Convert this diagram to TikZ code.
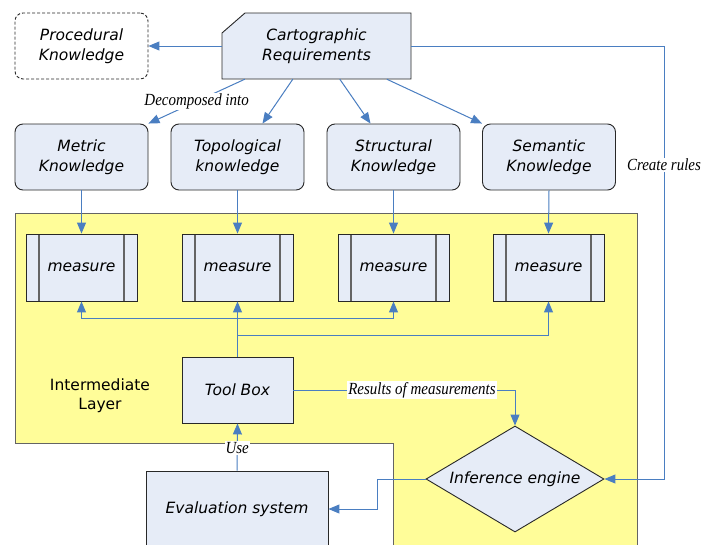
\documentclass[tikz,border=0pt]{standalone}
\usepackage{fontspec}
\setmainfont{DejaVu Sans}
\newfontfamily\labelfont[FakeStretch=0.88]{Liberation Serif}
\usetikzlibrary{arrows.meta,shapes.geometric,calc}
\definecolor{boxfill}{RGB}{230,236,247}
\definecolor{layerfill}{RGB}{255,253,153}
\definecolor{arrowblue}{RGB}{74,126,193}
\definecolor{boxline}{RGB}{40,40,40}
\definecolor{barline}{RGB}{100,100,100}
\definecolor{layerline}{RGB}{100,100,100}
\begin{document}
\begin{tikzpicture}[x=1pt,y=-1pt,
  every node/.style={font=\fontsize{15.5}{19.5}\selectfont\itshape, align=center, inner sep=0pt},
  box/.style={draw=boxline, line width=0.9pt, fill=boxfill, minimum width=133pt, minimum height=66pt},
  kbox/.style={box, rounded corners=8pt},
  measurebox/.style={box, minimum width=111pt, minimum height=67pt,
    path picture={
      \draw[barline, line width=1.5pt] ([xshift=13pt]path picture bounding box.north west) -- ([xshift=13pt]path picture bounding box.south west);
      \draw[barline, line width=1.5pt] ([xshift=-13pt]path picture bounding box.north east) -- ([xshift=-13pt]path picture bounding box.south east);
    }},
  conn/.style={draw=arrowblue, line width=1pt},
  arr/.style={conn, -{Triangle[length=11pt,width=9pt]}},
  lbl/.style={font=\labelfont\itshape\fontsize{17}{19}\selectfont, fill=white, inner sep=1pt},
]
\useasboundingbox (0,0) rectangle (704,544);
\clip (0,0) rectangle (704,544);
\fill[white] (0,0) rectangle (704,544);

% intermediate layer region
\draw[fill=layerfill, draw=layerline, line width=1pt]
  (15,213) -- (637,213) -- (637,560) -- (393,560) -- (393,443) -- (15,443) -- cycle;
\node[font=\fontsize{15.5}{19}\selectfont\upshape] (layer) at (100,396) {Intermediate\\Layer};

% top row
\node[draw=boxline, line width=0.9pt, dash pattern=on 3pt off 2pt, rounded corners=8pt, fill=white,
      minimum width=133pt, minimum height=66pt] (proc) at (81.5,46) {Procedural\\Knowledge};
\draw[draw=boxline, line width=0.9pt, fill=boxfill] (222,79) -- (222,33) -- (245,13) -- (411,13) -- (411,79) -- cycle;
\node[minimum width=189pt, minimum height=66pt] (c) at (316.5,46) {Cartographic\\Requirements};

% knowledge boxes
\node[kbox] (metric) at (81.5,157) {Metric\\Knowledge};
\node[kbox] (topo) at (237.5,157) {Topological\\knowledge};
\node[kbox] (struct) at (393.5,157) {Structural\\Knowledge};
\node[kbox] (sem) at (549,157) {Semantic\\Knowledge};

% measure boxes
\node[measurebox] (m1) at (81.5,267.5) {measure};
\node[measurebox] (m2) at (237.5,267.5) {measure};
\node[measurebox] (m3) at (393.5,267.5) {measure};
\node[measurebox] (m4) at (548.5,267.5) {measure};

% tool box, inference, evaluation
\node[box, minimum width=111pt, minimum height=66pt] (tb) at (237.5,390) {Tool Box};
\node[diamond, aspect=1.68, draw=boxline, line width=0.9pt, fill=boxfill,
      minimum width=178pt, minimum height=106pt] (inf) at (515,479) {Inference engine};
\node[box, minimum width=182pt, minimum height=76pt] (ev) at (237,509) {Evaluation system};

% connectors
\draw[arr] (c.west) -- (proc.east);
\draw[arr] ($(c.south west)+(23,0)$) -- node[lbl, pos=0.5] (dec) {Decomposed into} (metric.north east);
\draw[arr] ($(c.south west)+(71,0)$) -- ($(topo.north)+(25,0)$);
\draw[arr] ($(c.south west)+(118,0)$) -- ($(struct.north)+(-23,0)$);
\draw[arr] ($(c.south west)+(165,0)$) -- (sem.north west);

\coordinate (cr) at (664,46);
\draw[arr] (c.east) -- (cr) -- node[lbl, pos=0.275] (rules) {Create rules} (cr |- inf.east) -- (inf.east);

\draw[arr] (metric.south) -- (m1.north);
\draw[arr] (topo.south) -- (m2.north);
\draw[arr] (struct.south) -- (m3.north);
\draw[arr] (sem.south) -- (m4.north);

\draw[arr] (tb.north) -- (m2.south);
\coordinate (j1) at (237.5,318);
\coordinate (j2) at (237.5,335);
\draw[arr] (j1) -| (m1.south);
\draw[arr] (j1) -| (m3.south);
\draw[arr] (j2) -| (m4.south);

\draw[arr] (tb.east) -| node[lbl, pos=0.29] (res) {Results of measurements} (inf.north);

\coordinate (k) at (377,479);
\draw[arr] (inf.west) -- (k) |- (ev.east);

\draw[arr] (ev.north) -- node[lbl, pos=0.48] (use) {Use} (tb.south);
\end{tikzpicture}
\end{document}
